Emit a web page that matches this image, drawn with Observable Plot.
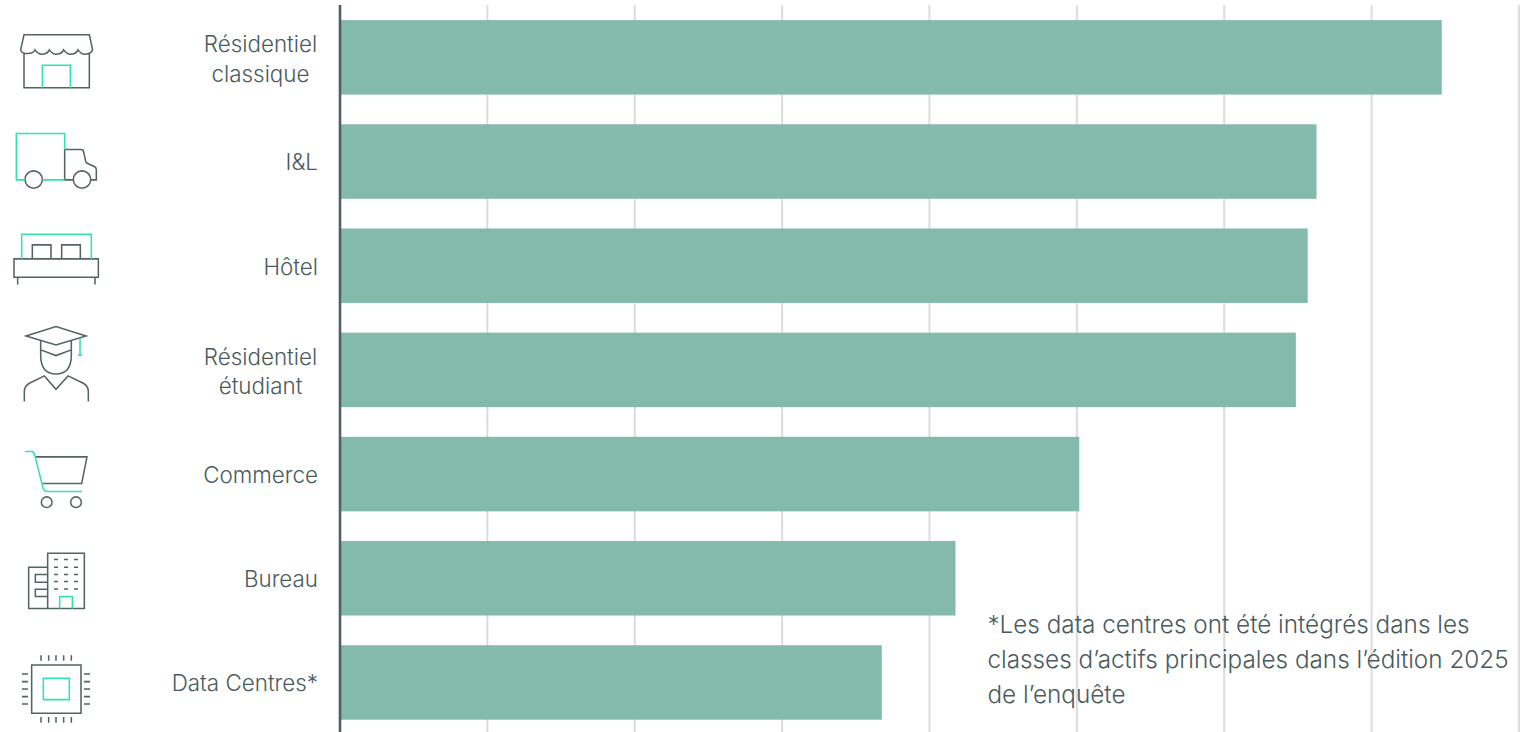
<!DOCTYPE html>
<html lang="fr">
<head>
<meta charset="utf-8">
<title>Classes d'actifs</title>
<style>
  html, body { margin: 0; padding: 0; background: #fff; }
  svg { display: block; }
</style>
<script src="https://cdn.jsdelivr.net/npm/d3@7"></script>
<script src="https://cdn.jsdelivr.net/npm/@observablehq/plot@0.6"></script>
</head>
<body>
<script>
const categories = ["Résidentiel\nclassique", "I&L", "Hôtel", "Résidentiel\nétudiant", "Commerce", "Bureau", "Data Centres*"];
const values = [74.8, 66.3, 65.7, 64.9, 50.2, 41.8, 36.8];
const gridTicks = [10, 20, 30, 40, 50, 60, 70, 80];
const footnote = "*Les data centres ont été intégrés dans les\nclasses d’actifs principales dans l’édition 2025\nde l’enquête";

const INK = "#4a5b5d";
const ICON_INK = "#536465";
const ACCENT = "#2fe6a0";
const BAR = "#84baac";

const rows = categories.map((name, i) => ({name, value: values[i]}));
const twoLine = rows.filter((d) => d.name.includes("\n"));
const oneLine = rows.filter((d) => !d.name.includes("\n"));

const dashes = (xs, ys, len) => ys.flatMap((y) => xs.map((x) => `M${x} ${y}h${len}`)).join("");
const pinsV = (xs, y, len) => xs.map((x) => `M${x} ${y}v${len}`).join("");
const pinsH = (ys, x, len) => ys.map((y) => `M${x} ${y}h${len}`).join("");
const ring = (cx, cy, r) => `M${cx - r} ${cy}a${r} ${r} 0 1 0 ${2 * r} 0a${r} ${r} 0 1 0 ${-2 * r} 0`;
const box = (x0, y0, x1, y1) => `M${x0} ${y0}H${x1}V${y1}H${x0}Z`;

// Pictograms, one per category, drawn on a 3× grid around their own centre line.
const icons = [
  {cy: 172.5,
    ink: "M72 158V264H268V158M62 150L72 105H268L278 150Q274 162 256 163Q244 164 234 150Q229 162 213 163Q201 164 191 150Q186 162 170 163Q158 164 148 150Q143 162 127 163Q115 164 105 150Q100 163 78 161Q64 160 62 150Z",
    accent: "M127 264V196H211V264"},
  {cy: 485,
    ink: "M194 449V540H220M194 449H243Q250 449 251 456L256 480Q257 488 263 491L283 500Q289 503 289 510V540H272" + ring(101, 539, 26) + ring(246, 539, 26),
    accent: "M194 449V401H49V540H75M127 540H194"},
  {cy: 797.5,
    ink: box(97, 735, 153, 777) + box(185, 735, 241, 777) + box(42, 777, 295, 832) + "M53 832V854M285 832V854",
    accent: "M65 777V703H274V777"},
  {cy: 210,
    ink: "M78 108L168 80L258 108L168 135ZM122 122V165Q122 222 168 222Q214 222 214 165V122M122 150L168 167L214 150M73 305V275Q73 258 88 250L133 228L168 268L204 228L250 250Q265 258 265 275V305",
    accent: "M240 115V166M234 166H246"},
  {cy: 522.6,
    ink: "M106 471H261L245 551H128" + ring(140, 607, 16) + ring(228, 607, 16),
    accent: "M75 455H95Q102 455 104 465L128 560Q131 575 145 575H246"},
  {cy: 835,
    ink: box(143, 760, 253, 926) + "M143 802H86V926H143M143 824H106V847H143M143 868H106V890H143" + dashes([162, 192, 222], [779, 802, 824, 845, 867], 12),
    accent: "M179 926V890H217V926"},
  {cy: 1147.5,
    ink: box(95, 1095, 243, 1240) + pinsV([123, 146, 168, 191, 214], 1066, 16) + pinsV([123, 146, 168, 191, 214], 1251, 17) + pinsH([1122, 1145, 1167, 1190, 1212], 66, 18) + pinsH([1122, 1145, 1167, 1190, 1212], 252, 18),
    accent: box(130, 1135, 208, 1199)}
];

// Places each pictogram on its category's band, using the plot's y scale.
function iconMark(index, scales) {
  const g = d3.create("svg:g").attr("fill", "none").attr("stroke-width", 4.6);
  const band = scales.y.bandwidth();
  categories.forEach((name, i) => {
    const mid = scales.y(name) + band / 2;
    const item = g.append("g").attr("transform", `translate(0 ${mid}) scale(${1 / 3}) translate(0 ${-icons[i].cy})`);
    item.append("path").attr("d", icons[i].ink).attr("stroke", ICON_INK);
    item.append("path").attr("d", icons[i].accent).attr("stroke", ACCENT);
  });
  return g.node();
}

const LABEL_FONT = 22.4;
const chart = Plot.plot({
  width: 1534,
  height: 732,
  marginTop: 5,
  marginBottom: 0,
  marginLeft: 339.5,
  marginRight: 15.6,
  style: {fontFamily: "Inter, sans-serif", fontWeight: 300, background: "#fff"},
  x: {domain: [0, 80], axis: null},
  y: {domain: categories, axis: null, range: [-9.6, 749.4], padding: 0.285, round: false},
  marks: [
    Plot.ruleX(gridTicks, {stroke: "#dcdcdc", strokeWidth: 2}),
    Plot.barX(rows, {x: "value", y: "name", fill: BAR}),
    Plot.ruleX([0], {stroke: "#4f6060", strokeWidth: 2.6}),
    Plot.text(oneLine, {x: 0, y: "name", text: "name", textAnchor: "end", dx: -22, dy: 1.3, fontSize: LABEL_FONT, fill: INK}),
    Plot.text(twoLine, {x: 0, y: "name", text: "name", textAnchor: "middle", dx: -79.5, dy: -0.2, fontSize: LABEL_FONT, lineHeight: 1.3, fill: INK}),
    Plot.text([footnote], {x: 44, y: () => categories[6], text: (d) => d, textAnchor: "start", dx: -1, dy: -25.7, fontSize: 24.3, lineHeight: 1.44, fill: INK}),
    iconMark
  ]
});
document.body.append(chart);
</script>
</body>
</html>
